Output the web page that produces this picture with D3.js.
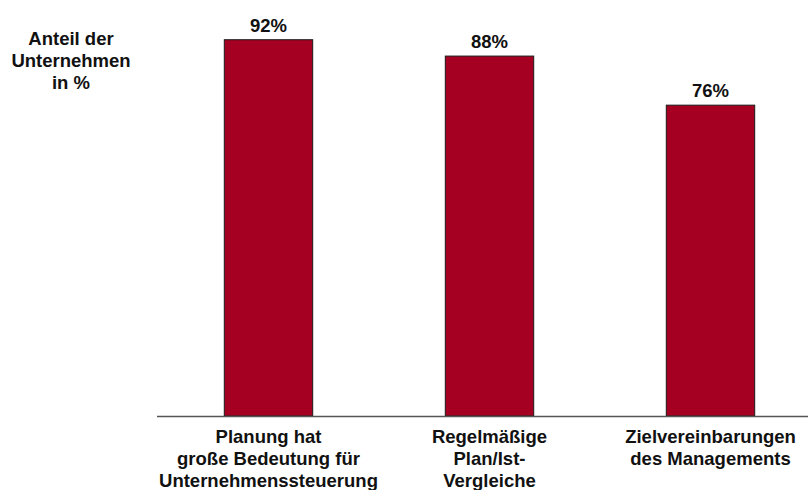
<!DOCTYPE html>
<html>
<head>
<meta charset="utf-8">
<script src="https://cdn.jsdelivr.net/npm/d3@7/dist/d3.min.js"></script>
<style>
  body { margin: 0; background: #fff; }
  text { font-family: "Liberation Sans", Arial, sans-serif; font-weight: bold; fill: #111; }
</style>
</head>
<body>
<script>
// data
const categories = [
  ["Planung hat", "große Bedeutung für", "Unternehmenssteuerung"],
  ["Regelmäßige", "Plan/Ist-", "Vergleiche"],
  ["Zielvereinbarungen", "des Managements"]
];
const values = [92, 88, 76];
const yTitle = ["Anteil der", "Unternehmen", "in %"];

const width = 808, height = 490;
const baseY = 416;

const svg = d3.select("body").append("svg")
  .attr("width", width)
  .attr("height", height);

const ids = categories.map((c, i) => i);

// scales
const x = d3.scaleBand().domain(ids).range([158, 821])
  .paddingInner(0.6).paddingOuter(0.3);
const y = d3.scaleLinear().domain([0, 100]).range([baseY, 7]);

// bars
svg.selectAll("rect.bar")
  .data(values)
  .join("rect")
  .attr("class", "bar")
  .attr("x", (d, i) => x(i))
  .attr("y", d => y(d))
  .attr("width", x.bandwidth())
  .attr("height", d => y(0) - y(d))
  .attr("fill", "#a50021")
  .attr("stroke", "#1a1a1a")
  .attr("stroke-width", 1);

// value labels
svg.selectAll("text.val")
  .data(values)
  .join("text")
  .attr("class", "val")
  .attr("x", (d, i) => x(i) + x.bandwidth() / 2)
  .attr("y", d => y(d) - 8)
  .attr("text-anchor", "middle")
  .attr("font-size", 18.5)
  .text(d => d + "%");

// baseline
svg.append("line")
  .attr("x1", 157).attr("x2", width)
  .attr("y1", baseY + 0.5).attr("y2", baseY + 0.5)
  .attr("stroke", "#555")
  .attr("stroke-width", 1.5);

// category labels
const cat = svg.selectAll("text.cat")
  .data(categories)
  .join("text")
  .attr("class", "cat")
  .attr("text-anchor", "middle")
  .attr("font-size", 18.5);
cat.selectAll("tspan")
  .data((d, i) => d.map(t => ({ t, i })))
  .join("tspan")
  .attr("x", d => x(d.i) + x.bandwidth() / 2)
  .attr("y", (d, j) => 443 + j * 22)
  .text(d => d.t);

// y title
svg.append("text")
  .attr("text-anchor", "middle")
  .attr("font-size", 18.5)
  .selectAll("tspan")
  .data(yTitle)
  .join("tspan")
  .attr("x", 71)
  .attr("y", (d, j) => 45 + j * 22)
  .text(d => d);
</script>
</body>
</html>
